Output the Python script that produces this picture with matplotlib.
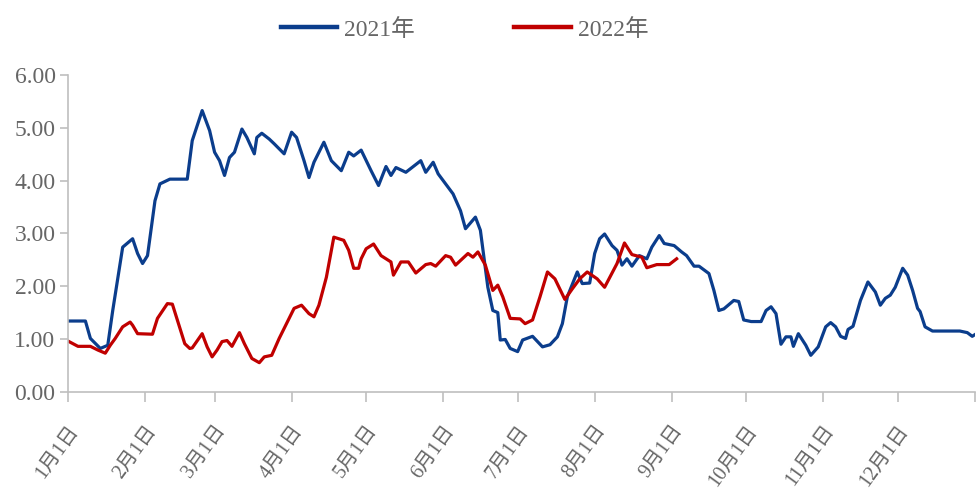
import matplotlib
matplotlib.use("Agg")
import matplotlib.pyplot as plt
import matplotlib.transforms as mtransforms
from matplotlib.lines import Line2D

plt.rcParams['font.family'] = ['Liberation Serif', 'Noto Sans CJK SC', 'DejaVu Sans']

# ---- data (day of year offset from Jan 1, value) ----
days_2021 = [0, 7, 9, 13, 16, 18, 22, 26, 28, 30, 32, 35, 37, 41, 48, 50, 54, 57, 59, 61,
             63, 65, 67, 70, 72, 75, 76, 78, 81, 83, 87, 90, 92, 95, 97, 99, 103, 106, 110, 113,
             115, 118, 122, 125, 128, 130, 132, 136, 142, 144, 147, 149, 155, 158, 160, 164, 166, 169, 171, 173,
             174, 176, 178, 181, 183, 187, 191, 194, 197, 199, 201, 205, 207, 210, 212, 214, 216, 219, 221, 223,
             225, 227, 230, 233, 235, 238, 240, 244, 247, 249, 252, 254, 258, 260, 262, 264, 268, 270, 272, 275,
             279, 281, 283, 285, 287, 289, 291, 292, 294, 297, 299, 302, 305, 307, 309, 311, 313, 314, 316, 319,
             322, 325, 327, 329, 331, 333, 336, 338, 340, 342, 343, 345, 348, 359, 362, 364, 365]
vals_2021 = [1.34, 1.34, 1.01, 0.82, 0.88, 1.54, 2.74, 2.90, 2.62, 2.43, 2.58, 3.62, 3.94, 4.03, 4.03, 4.76, 5.33, 4.95, 4.54, 4.38,
             4.10, 4.44, 4.54, 4.98, 4.82, 4.51, 4.82, 4.90, 4.79, 4.70, 4.51, 4.92, 4.82, 4.38, 4.06, 4.35, 4.73, 4.38, 4.19, 4.54,
             4.47, 4.58, 4.19, 3.91, 4.27, 4.10, 4.25, 4.16, 4.38, 4.16, 4.35, 4.13, 3.75, 3.43, 3.09, 3.31, 3.06, 1.98, 1.54, 1.50,
             0.98, 0.99, 0.82, 0.76, 0.98, 1.05, 0.85, 0.89, 1.04, 1.29, 1.80, 2.27, 2.05, 2.06, 2.62, 2.90, 2.99, 2.77, 2.68, 2.40,
             2.52, 2.38, 2.58, 2.52, 2.74, 2.96, 2.81, 2.77, 2.65, 2.58, 2.38, 2.38, 2.24, 1.92, 1.54, 1.57, 1.73, 1.71, 1.36, 1.33,
             1.33, 1.54, 1.61, 1.48, 0.90, 1.04, 1.04, 0.86, 1.10, 0.88, 0.69, 0.85, 1.23, 1.31, 1.23, 1.05, 1.01, 1.18, 1.24, 1.73,
             2.08, 1.89, 1.64, 1.77, 1.83, 1.98, 2.34, 2.21, 1.92, 1.58, 1.52, 1.23, 1.15, 1.15, 1.12, 1.05, 1.08]

days_2022 = [0, 4, 9, 12, 15, 17, 19, 22, 25, 26, 28, 34, 36, 40, 42, 44, 47, 49, 50, 54,
             56, 58, 60, 62, 64, 66, 69, 71, 74, 77, 79, 82, 85, 91, 94, 97, 99, 101, 104, 107,
             111, 113, 115, 117, 118, 120, 123, 126, 130, 131, 134, 137, 140, 144, 146, 148, 152, 154, 156, 161,
             163, 165, 168, 171, 173, 175, 178, 182, 184, 187, 190, 193, 196, 200, 203, 206, 209, 213, 216, 221,
             224, 227, 231, 233, 237, 242, 245]
vals_2022 = [0.96, 0.86, 0.86, 0.79, 0.73, 0.88, 1.01, 1.23, 1.32, 1.26, 1.10, 1.09, 1.39, 1.67, 1.66, 1.36, 0.91, 0.82, 0.83, 1.10,
             0.85, 0.66, 0.79, 0.95, 0.97, 0.86, 1.12, 0.91, 0.63, 0.55, 0.66, 0.69, 1.01, 1.58, 1.64, 1.48, 1.42, 1.64, 2.17, 2.93,
             2.87, 2.68, 2.34, 2.34, 2.52, 2.71, 2.80, 2.58, 2.46, 2.21, 2.46, 2.46, 2.25, 2.41, 2.43, 2.38, 2.58, 2.55, 2.40, 2.62,
             2.55, 2.65, 2.40, 1.92, 2.02, 1.80, 1.39, 1.38, 1.29, 1.36, 1.80, 2.27, 2.14, 1.75, 1.95, 2.14, 2.27, 2.14, 1.98, 2.43,
             2.82, 2.60, 2.55, 2.35, 2.41, 2.41, 2.52]

month_starts = [0, 31, 59, 90, 120, 151, 181, 212, 243, 273, 304, 334]
month_labels = ['1月1日', '2月1日', '3月1日', '4月1日', '5月1日', '6月1日',
                '7月1日', '8月1日', '9月1日', '10月1日', '11月1日', '12月1日']
y_ticks = [0, 1, 2, 3, 4, 5, 6]

BLUE = '#0b3d8c'
RED = '#c00000'
GRAY_TXT = '#666666'
GRAY_AX = '#bfbfbf'

fig = plt.figure(figsize=(9.76, 4.95), dpi=100)
ax = fig.add_axes([0.0697, 0.2087, 0.929, 0.6393])

ax.plot(days_2021, vals_2021, color=BLUE, lw=2.3, solid_joinstyle='round', label='2021年')
ax.plot(days_2022, vals_2022, color=RED, lw=2.3, solid_joinstyle='round', label='2022年')

ax.set_xlim(0, 365)
ax.set_ylim(0, 6)
ax.set_yticks(y_ticks)
ax.set_yticklabels([f'{v:.2f}' for v in y_ticks])
ax.set_xticks(month_starts + [365])
ax.set_xticklabels([])

# rotated month labels, placed with a pixel offset below each tick
offset = mtransforms.ScaledTranslation(0 / 100, -30 / 100, fig.dpi_scale_trans)
trans = ax.get_xaxis_transform() + offset
for d, lab in zip(month_starts, month_labels):
    ax.text(d, 0, lab, transform=trans, rotation=54, ha='right', va='top',
            rotation_mode='anchor', fontsize=14.5, color=GRAY_TXT, clip_on=False)

for s in ['top', 'right']:
    ax.spines[s].set_visible(False)
for s in ['left', 'bottom']:
    ax.spines[s].set_color(GRAY_AX)
    ax.spines[s].set_linewidth(1.2)

ax.tick_params(axis='y', colors=GRAY_AX, labelcolor=GRAY_TXT, labelsize=17,
               length=6, width=1.2, pad=3)
ax.tick_params(axis='x', colors=GRAY_AX, length=7, width=1.2)

handles = [Line2D([0], [0], color=BLUE, lw=3.2),
           Line2D([0], [0], color=RED, lw=3.2)]
leg = fig.legend(handles, ['2021年', '2022年'], loc='upper center',
                 bbox_to_anchor=(0.476, 1.005), ncol=2, frameon=False,
                 fontsize=17, handlelength=2.4, columnspacing=4.2,
                 handletextpad=0.3)
for t in leg.get_texts():
    t.set_color(GRAY_TXT)

fig.savefig('out.png', dpi=100)
